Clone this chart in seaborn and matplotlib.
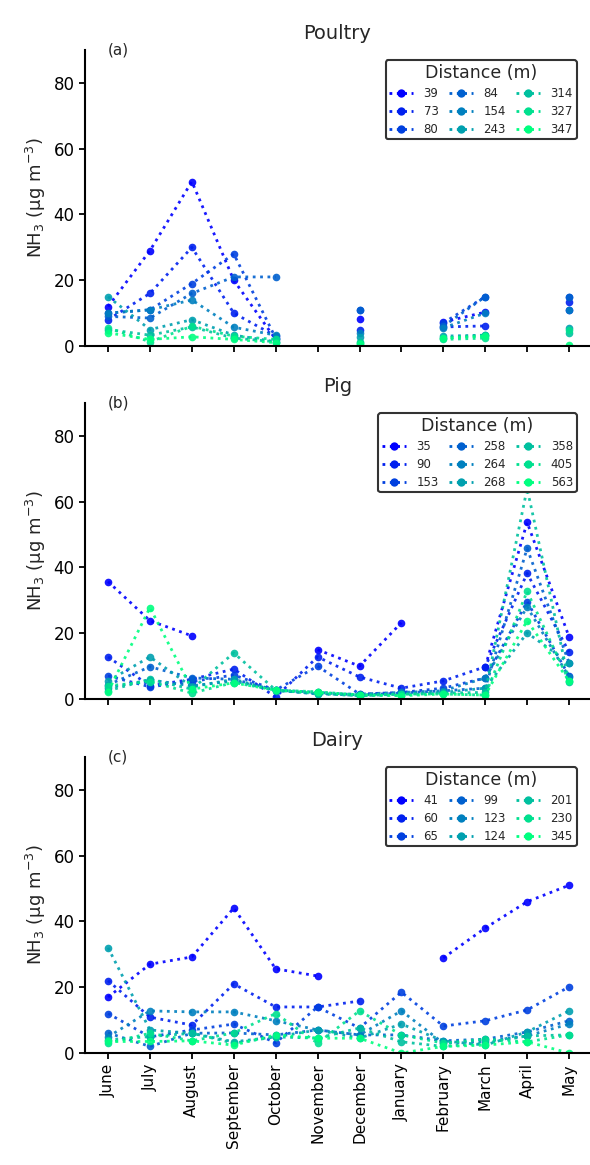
import numpy as np
import pandas as pd
import matplotlib
matplotlib.use("Agg")
import matplotlib.pyplot as plt
import seaborn as sns
from matplotlib.lines import Line2D

nan = np.nan
months = ["June", "July", "August", "September", "October", "November",
          "December", "January", "February", "March", "April", "May"]

# ---- Poultry ----
poultry_dist = [39, 73, 80, 84, 154, 243, 314, 327, 347]
poultry_values = [
    [12, 29, 50, 20, 2.0, nan, 8.2, nan, 7.3, 10.3, nan, 11],
    [8, 16, 30, 10, 3.0, nan, 4.8, nan, 5.8, 6.1, nan, 13.4],
    [10, 11, 19, 28, 2.4, nan, 11, nan, 7.0, 15, nan, 15],
    [9, 8.5, 16, 21, 21, nan, 11, nan, 6.0, 15, nan, 15],
    [10, 11, 14, 5.7, 3.3, nan, 4.0, nan, 5.5, 10, nan, 11],
    [15, 5.0, 8.0, 3.3, 1.3, nan, 2.8, nan, 3.0, 3.3, nan, 5.5],
    [5.0, 3.3, 5.8, 2.4, 1.3, nan, 1.3, nan, 2.4, 3.3, nan, 4.0],
    [5.5, 1.3, 6.0, 3.0, 2.0, nan, 1.0, nan, 2.0, 2.4, nan, 5.0],
    [4.0, 2.0, 2.8, 2.0, 1.0, nan, 0.5, nan, 2.4, 3.0, nan, 0.3],
]

# ---- Pig ----
pig_dist = [35, 90, 153, 258, 264, 268, 358, 405, 563]
pig_values = [
    [35.7, 23.8, 19.2, nan, nan, 15, 10, 23.2, nan, 9.8, 53.7, 18.9],
    [12.8, 4.0, 6.0, 9.1, 0.6, 12.8, 6.7, 3.3, 5.5, 9.8, 38.2, 14.3],
    [7.0, 3.7, 5.3, 7.3, 2.7, 10, 1.5, 2.0, 3.3, 6.4, 29.6, 7.0],
    [4.3, 9.8, 6.4, 6.0, 2.7, 2.0, 1.2, 1.8, 2.5, 3.3, 45.8, 11],
    [3.4, 5.8, 4.0, 5.5, 2.7, 1.5, 1.5, 2.0, 2.5, 6.4, 28, 6.7],
    [5.5, 12.8, 3.7, 6.0, 2.5, 1.8, 1.0, 1.5, 2.0, 3.3, 20.1, 11],
    [2.5, 6.0, 3.0, 14, 2.7, 1.6, 1.0, 1.2, 1.8, 2.0, 64, 5.2],
    [4.0, 5.3, 1.8, 5.0, 2.7, 2.2, 1.2, 1.5, 1.5, 1.2, 32.7, 5.5],
    [2.2, 27.8, 3.0, 4.9, 2.7, 2.0, 1.3, 1.0, 1.5, 1.2, 23.8, 5.5],
]

# ---- Dairy ----
dairy_dist = [41, 60, 65, 99, 123, 124, 201, 230, 345]
dairy_values = [
    [17, 27, 29.2, 44.1, 25.6, 23.4, nan, nan, 28.9, 38, 46, 51],
    [22, 10.9, 8.5, 21, 14, 14, 15.8, nan, nan, nan, nan, nan],
    [12, 4.9, 7.0, 8.8, 3.1, 14, 7.6, 18.5, 8.2, 9.8, 13.1, 20.1],
    [6.1, 2.0, 6.0, 6.1, 5.5, 7.0, 5.5, 5.5, 3.7, 4.2, 6.4, 9.8],
    [4.9, 12.8, 12.5, 12.5, 9.8, 7.0, 5.5, 12.8, 3.0, 3.5, 5.2, 8.8],
    [32, 7.0, 6.0, 3.4, 4.9, 7.0, 4.5, 8.8, 3.7, 2.4, 6.4, 12.8],
    [4.0, 5.0, 6.0, 3.0, 4.9, 4.5, 7.6, 3.4, 2.0, 3.0, 5.2, 5.5],
    [3.0, 6.0, 3.7, 6.1, 12, 3.0, 12.8, 5.5, 3.0, 4.2, 3.4, 5.5],
    [3.5, 3.5, 3.7, 2.4, 5.5, 4.5, 4.5, 0.0, 2.0, 2.4, 3.4, 0.0],
]

panel_titles = ["Poultry", "Pig", "Dairy"]
panel_letters = ["(a)", "(b)", "(c)"]
panels = [(poultry_dist, poultry_values), (pig_dist, pig_values), (dairy_dist, dairy_values)]

sns.set_theme(style="ticks")
plt.rcParams["font.family"] = ["DejaVu Sans"]

fig = plt.figure(figsize=(5.9, 11.65), dpi=100)
colors = [plt.cm.winter(i / 8) for i in range(9)]

axes_bottoms = [1 - 346 / 1165, 1 - 699 / 1165, 1 - 1053 / 1165]
ax_h = 296 / 1165
ax_l = 85 / 590
ax_w = 505 / 590


def long_frame(dists, values):
    rows = []
    for d, vals in zip(dists, values):
        seg = 0
        prev_nan = True
        for i, v in enumerate(vals):
            if np.isnan(v):
                prev_nan = True
                continue
            if prev_nan:
                seg += 1
            prev_nan = False
            rows.append({"x": i, "v": v, "dist": str(d), "uid": f"{d}_{seg}"})
    return pd.DataFrame(rows)


for k, (dists, values) in enumerate(panels):
    ax = fig.add_axes([ax_l, axes_bottoms[k], ax_w, ax_h])
    df = long_frame(dists, values)
    pal = {str(d): colors[i] for i, d in enumerate(dists)}
    sns.lineplot(data=df, x="x", y="v", hue="dist", units="uid", estimator=None,
                 palette=pal, hue_order=[str(d) for d in dists], marker="o",
                 linestyle=":", linewidth=2, markersize=5.5, markeredgewidth=0,
                 alpha=0.9, legend=False, sort=False, ax=ax)
    ax.set_xlim(-0.55, 11.5)
    ax.set_ylim(0, 90)
    ax.set_yticks([0, 20, 40, 60, 80])
    ax.set_xticks(range(12))
    if k == 2:
        ax.set_xticklabels(months, rotation=90, fontsize=11)
    else:
        ax.set_xticklabels([])
    ax.tick_params(axis="y", labelsize=12, length=4, width=1.3, colors="black")
    ax.tick_params(axis="x", length=4, width=1.3, colors="black")
    ax.set_xlabel("")
    ax.set_ylabel("NH$_3$ (μg m$^{-3}$)", fontsize=13)
    sns.despine(ax=ax)
    for s in ["left", "bottom"]:
        ax.spines[s].set_linewidth(1.5)
        ax.spines[s].set_color("black")
    ax.set_title(panel_titles[k], fontsize=14, pad=8)
    ax.text(0.045, 1.0, panel_letters[k], transform=ax.transAxes, fontsize=11,
            ha="left", va="center")
    handles = [Line2D([], [], color=colors[i], marker="o", linestyle=":", lw=2,
                      markersize=6, markeredgewidth=0) for i in range(9)]
    leg = ax.legend(handles, [str(d) for d in dists], ncol=3, title="Distance (m)",
                    fontsize=8.5, title_fontsize=12.5, loc="upper right",
                    bbox_to_anchor=(0.985, 0.985), handlelength=2.0,
                    columnspacing=0.9, labelspacing=0.42, handletextpad=0.9,
                    borderpad=0.3, frameon=True, fancybox=True, framealpha=1)
    leg.get_frame().set_edgecolor("#333333")
    leg.get_frame().set_linewidth(1.5)

fig.savefig("out.png", dpi=100)
